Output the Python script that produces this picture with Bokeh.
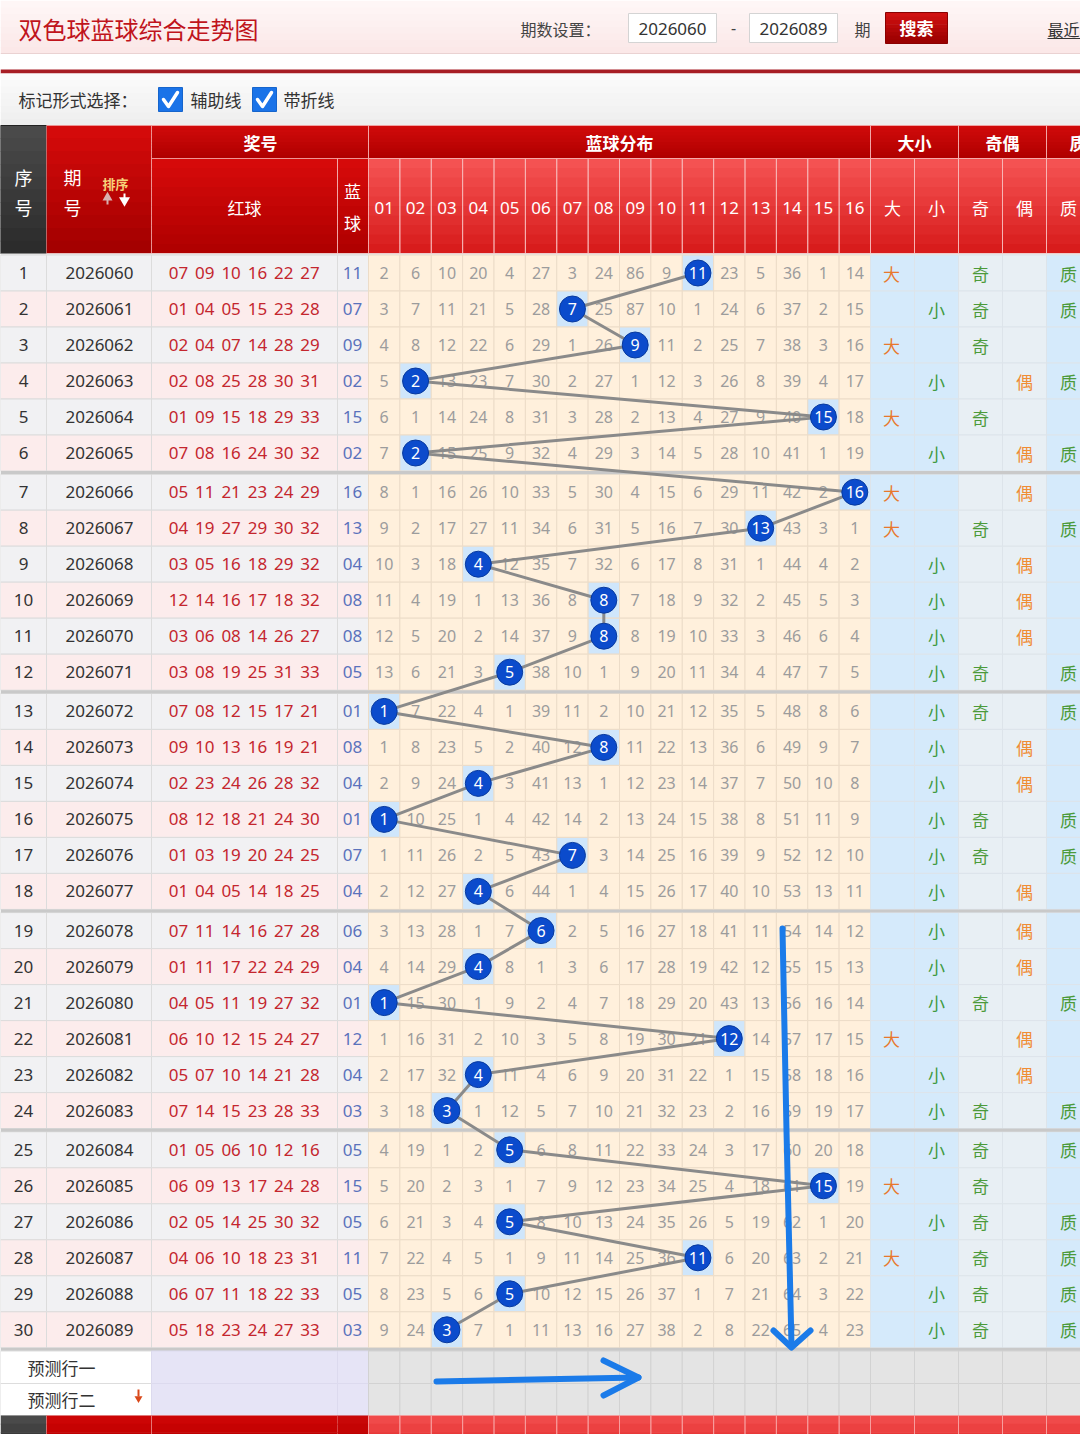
from bokeh.plotting import figure
from bokeh.models import Range1d
from bokeh.embed import file_html
from bokeh.resources import INLINE
from bokeh.core.properties import value

# ---------------- data ----------------
seq_numbers = ["1", "2", "3", "4", "5", "6", "7", "8", "9", "10", "11", "12", "13", "14", "15",
               "16", "17", "18", "19", "20", "21", "22", "23", "24", "25", "26", "27", "28", "29", "30"]
issues = ["2026060", "2026061", "2026062", "2026063", "2026064", "2026065", "2026066", "2026067",
          "2026068", "2026069", "2026070", "2026071", "2026072", "2026073", "2026074", "2026075",
          "2026076", "2026077", "2026078", "2026079", "2026080", "2026081", "2026082", "2026083",
          "2026084", "2026085", "2026086", "2026087", "2026088", "2026089"]
red_balls = [
    "07 09 10 16 22 27", "01 04 05 15 23 28", "02 04 07 14 28 29", "02 08 25 28 30 31",
    "01 09 15 18 29 33", "07 08 16 24 30 32", "05 11 21 23 24 29", "04 19 27 29 30 32",
    "03 05 16 18 29 32", "12 14 16 17 18 32", "03 06 08 14 26 27", "03 08 19 25 31 33",
    "07 08 12 15 17 21", "09 10 13 16 19 21", "02 23 24 26 28 32", "08 12 18 21 24 30",
    "01 03 19 20 24 25", "01 04 05 14 18 25", "07 11 14 16 27 28", "01 11 17 22 24 29",
    "04 05 11 19 27 32", "06 10 12 15 24 27", "05 07 10 14 21 28", "07 14 15 23 28 33",
    "01 05 06 10 12 16", "06 09 13 17 24 28", "02 05 14 25 30 32", "04 06 10 18 23 31",
    "06 07 11 18 22 33", "05 18 23 24 27 33"]
blue_balls = [11, 7, 9, 2, 15, 2, 16, 13, 4, 8, 8, 5, 1, 8, 4, 1, 7, 4, 6, 4,
              1, 12, 4, 3, 5, 15, 5, 11, 5, 3]
ball_labels = ["01", "02", "03", "04", "05", "06", "07", "08", "09", "10", "11", "12", "13", "14", "15", "16"]
# omission counts per ball column (0 = drawn this period)
miss = [
    [2, 6, 10, 20, 4, 27, 3, 24, 86, 9, 0, 23, 5, 36, 1, 14],
    [3, 7, 11, 21, 5, 28, 0, 25, 87, 10, 1, 24, 6, 37, 2, 15],
    [4, 8, 12, 22, 6, 29, 1, 26, 0, 11, 2, 25, 7, 38, 3, 16],
    [5, 0, 13, 23, 7, 30, 2, 27, 1, 12, 3, 26, 8, 39, 4, 17],
    [6, 1, 14, 24, 8, 31, 3, 28, 2, 13, 4, 27, 9, 40, 0, 18],
    [7, 0, 15, 25, 9, 32, 4, 29, 3, 14, 5, 28, 10, 41, 1, 19],
    [8, 1, 16, 26, 10, 33, 5, 30, 4, 15, 6, 29, 11, 42, 2, 0],
    [9, 2, 17, 27, 11, 34, 6, 31, 5, 16, 7, 30, 0, 43, 3, 1],
    [10, 3, 18, 0, 12, 35, 7, 32, 6, 17, 8, 31, 1, 44, 4, 2],
    [11, 4, 19, 1, 13, 36, 8, 0, 7, 18, 9, 32, 2, 45, 5, 3],
    [12, 5, 20, 2, 14, 37, 9, 0, 8, 19, 10, 33, 3, 46, 6, 4],
    [13, 6, 21, 3, 0, 38, 10, 1, 9, 20, 11, 34, 4, 47, 7, 5],
    [0, 7, 22, 4, 1, 39, 11, 2, 10, 21, 12, 35, 5, 48, 8, 6],
    [1, 8, 23, 5, 2, 40, 12, 0, 11, 22, 13, 36, 6, 49, 9, 7],
    [2, 9, 24, 0, 3, 41, 13, 1, 12, 23, 14, 37, 7, 50, 10, 8],
    [0, 10, 25, 1, 4, 42, 14, 2, 13, 24, 15, 38, 8, 51, 11, 9],
    [1, 11, 26, 2, 5, 43, 0, 3, 14, 25, 16, 39, 9, 52, 12, 10],
    [2, 12, 27, 0, 6, 44, 1, 4, 15, 26, 17, 40, 10, 53, 13, 11],
    [3, 13, 28, 1, 7, 0, 2, 5, 16, 27, 18, 41, 11, 54, 14, 12],
    [4, 14, 29, 0, 8, 1, 3, 6, 17, 28, 19, 42, 12, 55, 15, 13],
    [0, 15, 30, 1, 9, 2, 4, 7, 18, 29, 20, 43, 13, 56, 16, 14],
    [1, 16, 31, 2, 10, 3, 5, 8, 19, 30, 21, 0, 14, 57, 17, 15],
    [2, 17, 32, 0, 11, 4, 6, 9, 20, 31, 22, 1, 15, 58, 18, 16],
    [3, 18, 0, 1, 12, 5, 7, 10, 21, 32, 23, 2, 16, 59, 19, 17],
    [4, 19, 1, 2, 0, 6, 8, 11, 22, 33, 24, 3, 17, 60, 20, 18],
    [5, 20, 2, 3, 1, 7, 9, 12, 23, 34, 25, 4, 18, 61, 0, 19],
    [6, 21, 3, 4, 0, 8, 10, 13, 24, 35, 26, 5, 19, 62, 1, 20],
    [7, 22, 4, 5, 1, 9, 11, 14, 25, 36, 0, 6, 20, 63, 2, 21],
    [8, 23, 5, 6, 0, 10, 12, 15, 26, 37, 1, 7, 21, 64, 3, 22],
    [9, 24, 0, 7, 1, 11, 13, 16, 27, 38, 2, 8, 22, 65, 4, 23],
]
size_flag = ["大", "小", "大", "小", "大", "小", "大", "大", "小", "小", "小", "小", "小", "小", "小",
             "小", "小", "小", "小", "小", "小", "大", "小", "小", "小", "大", "小", "大", "小", "小"]
parity_flag = ["奇", "奇", "奇", "偶", "奇", "偶", "偶", "奇", "偶", "偶", "偶", "奇", "奇", "偶", "偶",
               "奇", "奇", "偶", "偶", "偶", "奇", "偶", "偶", "奇", "奇", "奇", "奇", "奇", "奇", "奇"]
prime_flag = ["质", "质", "合", "质", "合", "质", "合", "质", "合", "合", "合", "质", "质", "合", "合",
              "质", "质", "合", "合", "合", "质", "合", "合", "质", "质", "合", "质", "质", "质", "质"]

# ---------------- layout helpers ----------------
CJK = "Noto Sans CJK SC"
NUM = "Noto Sans"
COL_X0, COL_W = 368.0, 31.375
ROW_TOP0, ROW_H, SEP = 254.5, 36.0, 3.2
N = len(issues)


def row_top(i):
    return ROW_TOP0 + ROW_H * i + SEP * (i // 6)


def row_mid(i):
    return row_top(i) + ROW_H / 2


def col_left(k):
    return COL_X0 + COL_W * k


def col_mid(k):
    return COL_X0 + COL_W * (k + 0.5)


p = figure(width=1080, height=1434, x_range=Range1d(0, 1080), y_range=Range1d(1434, 0),
           output_backend="svg", toolbar_location=None, min_border=0,
           x_axis_location=None, y_axis_location=None, outline_line_color=None,
           background_fill_color="white", border_fill_color="white")
p.grid.visible = False


def hexrgb(c):
    return [int(c[i:i + 2], 16) for i in (1, 3, 5)]


def lerp(c1, c2, t):
    a, b = hexrgb(c1), hexrgb(c2)
    return "#%02x%02x%02x" % tuple(round(a[j] + (b[j] - a[j]) * t) for j in range(3))


def grad(cells, c1, c2, n=10, border=None, balpha=1.0):
    L, R, T, B, C = [], [], [], [], []
    for (l, r, t, b) in cells:
        for k in range(n):
            y0 = t + (b - t) * k / n
            y1 = t + (b - t) * (k + 1) / n
            L.append(l); R.append(r); T.append(y0); B.append(min(b, y1 + 0.7))
            C.append(lerp(c1, c2, k / max(1, n - 1)))
    p.quad(left=L, right=R, top=T, bottom=B, fill_color=C, line_color=None)
    if border:
        p.quad(left=[c[0] for c in cells], right=[c[1] for c in cells],
               top=[c[2] for c in cells], bottom=[c[3] for c in cells],
               fill_color=None, line_color=border, line_alpha=balpha, line_width=1)


def txt(xs, ys, texts, size, color, font=CJK, bold=False, align="center"):
    p.text(x=xs, y=ys, text=texts, text_font=value(font), text_font_size=f"{size}px",
           text_color=color, text_align=align, text_baseline="middle",
           text_font_style="bold" if bold else "normal")


# ---------------- top bar ----------------
grad([(0, 1080, 0, 53)], "#fef6f6", "#fbe8e8", n=8)
p.segment(x0=[0], y0=[53], x1=[1080], y1=[53], line_color="#ead2d2", line_width=1)
txt([18], [28], ["双色球蓝球综合走势图"], 24, "#c0141c", align="left")
txt([520], [28], ["期数设置："], 16, "#444444", align="left")
p.quad(left=[628, 749], right=[716, 837], top=[13, 13], bottom=[42, 42],
       fill_color="white", line_color="#d4d4d4")
txt([672, 793], [28, 28], ["2026060", "2026089"], 17, "#333333", font=NUM)
txt([733], [27], ["-"], 16, "#444444", font=NUM)
txt([862], [28], ["期"], 16, "#444444")
grad([(885, 947, 12, 43)], "#d01010", "#9a0000", n=8, border="#8a0000")
txt([916], [27], ["搜索"], 17, "white", bold=True)
txt([1047], [28], ["最近"], 16, "#333333", align="left")
p.segment(x0=[1047], y0=[38], x1=[1080], y1=[38], line_color="#333333", line_width=1)

# red rule + toolbar
p.quad(left=[0], right=[1080], top=[69], bottom=[73], fill_color="#a81e26", line_color=None)
grad([(0, 1080, 73, 125)], "#fbfbfb", "#eeeeee", n=8)
txt([18], [99], ["标记形式选择："], 17, "#333333", align="left")
p.quad(left=[158, 252], right=[182, 276], top=[87, 87], bottom=[111, 111],
       fill_color="#1a73e8", line_color="#1665cc")
for bx in (158, 252):
    p.line(x=[bx + 5, bx + 10, bx + 19], y=[99, 106, 92], line_color="white", line_width=3.5,
           line_cap="round", line_join="round")
txt([190, 283], [99, 99], ["辅助线", "带折线"], 17, "#333333", align="left")

# ---------------- table header ----------------
grad([(0, 46, 125, 253)], "#4a4a4a", "#2c2c2c", border="#222222")
grad([(46, 151, 125, 253)], "#d40a0a", "#a40000", border="#f0a0a0", balpha=0.6)
grad([(151, 368, 125, 158), (368, 870, 125, 158), (870, 958, 125, 158),
      (958, 1046, 125, 158), (1046, 1134, 125, 158)], "#d00a0a", "#b00000",
     border="#f5b0b0", balpha=0.7)
grad([(151, 337, 158, 253), (337, 368, 158, 253)], "#d60a0a", "#b00000",
     border="#f5b0b0", balpha=0.7)
sub_cells = [(col_left(k), col_left(k + 1), 158, 253) for k in range(16)]
sub_cells += [(870 + 44 * k, 914 + 44 * k, 158, 253) for k in range(6)]
grad(sub_cells, "#f45252", "#d81c1c", border="#f8b8b8", balpha=0.8)
p.quad(left=[0], right=[1080], top=[253], bottom=[255], fill_color="#e8e8e8", line_color=None)

txt([23, 23], [176, 206], ["序", "号"], 18, "white")
txt([72, 72], [176, 206], ["期", "号"], 18, "white")
txt([115], [183], ["排序"], 13, "#f7d27a", bold=True)
p.segment(x0=[107, 124], y0=[197, 193], x1=[107, 124], y1=[204, 200], line_color=["#d8b0b0", "white"], line_width=2)
p.scatter(x=[107], y=[197], marker="triangle", size=10, fill_color="#d8b0b0", line_color=None)
p.scatter(x=[124], y=[200], marker="inverted_triangle", size=11, fill_color="white", line_color=None)
txt([260, 619, 914, 1002], [142] * 4, ["奖号", "蓝球分布", "大小", "奇偶"], 17, "white", bold=True)
txt([1069], [142], ["质"], 17, "white", bold=True, align="left")
txt([244], [207], ["红球"], 17, "white")
txt([352, 352], [190, 222], ["蓝", "球"], 17, "white")
txt([col_mid(k) for k in range(16)], [207] * 16, ball_labels, 17, "white", font=NUM)
txt([892, 936, 980, 1024, 1068], [207] * 5, ["大", "小", "奇", "偶", "质"], 17, "white")

# ---------------- data rows ----------------
# left part backgrounds
L, R, T, B, C = [], [], [], [], []
for i in range(N):
    fill = "#f1f1f3" if i % 2 == 0 else "#fcecec"
    for (l, r) in ((0, 46), (46, 151), (151, 337), (337, 368)):
        L.append(l); R.append(r); T.append(row_top(i)); B.append(row_top(i) + ROW_H); C.append(fill)
p.quad(left=L, right=R, top=T, bottom=B, fill_color=C, line_color="#dcdcdc", line_width=1)

# distribution cells
L, R, T, B, C = [], [], [], [], []
for i in range(N):
    for k in range(16):
        L.append(col_left(k)); R.append(col_left(k + 1))
        T.append(row_top(i)); B.append(row_top(i) + ROW_H)
        C.append("#cfe6fb" if miss[i][k] == 0 else "#fff0dc")
p.quad(left=L, right=R, top=T, bottom=B, fill_color=C, line_color="#ecdcc8", line_width=1)

# right attribute cells
right_cols = [(870, 914, "#d5eafb"), (914, 958, "#d5eafb"), (958, 1002, "#e8eff4"),
              (1002, 1046, "#e8eff4"), (1046, 1090, "#d5eafb"), (1090, 1134, "#d5eafb")]
L, R, T, B, C = [], [], [], [], []
for i in range(N):
    for (l, r, c) in right_cols:
        L.append(l); R.append(r); T.append(row_top(i)); B.append(row_top(i) + ROW_H); C.append(c)
p.quad(left=L, right=R, top=T, bottom=B, fill_color=C, line_color="#dde4ea", line_width=1)

# group separators
seps = [row_top(g * 6) for g in range(1, 5)] + [row_top(N - 1) + ROW_H + SEP]
p.quad(left=[0] * len(seps), right=[1080] * len(seps), top=[s - SEP for s in seps], bottom=seps,
       fill_color="#c9c9c9", line_color=None)

ys = [row_mid(i) for i in range(N)]
txt([23] * N, ys, seq_numbers, 17, "#333333", font=NUM)
txt([99] * N, ys, issues, 17, "#333333", font=NUM)
rx, ry, rt = [], [], []
for i in range(N):
    for j, nstr in enumerate(red_balls[i].split()):
        rx.append(178 + 26.3 * j); ry.append(ys[i]); rt.append(nstr)
txt(rx, ry, rt, 17, "#c4262e", font=NUM)
txt([352] * N, ys, ["%02d" % b for b in blue_balls], 17, "#5a72bc", font=NUM)

mx, my, mt = [], [], []
for i in range(N):
    for k in range(16):
        if miss[i][k] != 0:
            mx.append(col_mid(k)); my.append(ys[i]); mt.append(str(miss[i][k]))
txt(mx, my, mt, 16, "#9c9c9c", font=NUM)

hx = [col_mid(b - 1) for b in blue_balls]
p.line(x=hx, y=ys, line_color="#8a8a8a", line_width=3, line_join="round")
p.scatter(x=hx, y=ys, marker="circle", size=26, fill_color="#0b4bcc", line_color="#083a9e", line_width=1)
txt(hx, ys, [str(b) for b in blue_balls], 16, "white", font=NUM)

txt([891 if s == "大" else 936 for s in size_flag], ys, size_flag, 17,
    ["#e8782c" if s == "大" else "#3f9a3f" for s in size_flag])
txt([980 if s == "奇" else 1024 for s in parity_flag], ys, parity_flag, 17,
    ["#4c9a3a" if s == "奇" else "#f08c34" for s in parity_flag])
qi = [i for i in range(N) if prime_flag[i] == "质"]
txt([1068] * len(qi), [ys[i] for i in qi], ["质"] * len(qi), 17, "#4c9a3a")

# ---------------- prediction rows ----------------
pt = row_top(N - 1) + ROW_H + SEP
pr = [(pt, pt + 32.5), (pt + 32.5, 1415)]
for (t, b) in pr:
    p.quad(left=[0], right=[151], top=[t], bottom=[b], fill_color="white", line_color="#dddddd")
    p.quad(left=[151, 337], right=[337, 368], top=[t, t], bottom=[b, b], fill_color="#e6e4f6", line_color="#dcdaee")
    p.quad(left=[col_left(k) for k in range(16)] + [870 + 44 * k for k in range(6)],
           right=[col_left(k + 1) for k in range(16)] + [914 + 44 * k for k in range(6)],
           top=[t] * 22, bottom=[b] * 22, fill_color="#e4e4e4", line_color="#d2d2d2")
txt([27, 27], [(pr[0][0] + pr[0][1]) / 2, (pr[1][0] + pr[1][1]) / 2], ["预测行一", "预测行二"], 17,
    "#333333", align="left")
p.segment(x0=[138], y0=[1389], x1=[138], y1=[1396], line_color="#d9481a", line_width=2)
p.scatter(x=[138], y=[1398], marker="inverted_triangle", size=8, fill_color="#d9481a", line_color=None)

# ---------------- bottom header band ----------------
grad([(0, 46, 1415, 1440)], "#4a4a4a", "#3a3a3a", n=3)
grad([(46, 151, 1415, 1440), (151, 337, 1415, 1440)], "#cc0505", "#c00000", n=3, border="#e88080", balpha=0.6)
grad([(337, 368, 1415, 1440)], "#c80808", "#c00000", n=3)
bcells = [(col_left(k), col_left(k + 1), 1415, 1440) for k in range(16)]
bcells += [(870 + 44 * k, 914 + 44 * k, 1415, 1440) for k in range(6)]
grad(bcells, "#f04a4a", "#e83838", n=3, border="#f7a0a0", balpha=0.8)

# ---------------- hand-drawn blue annotation arrows ----------------
ARROW = "#1b7be9"
p.line(x=[782, 786, 791], y=[928, 1130, 1345], line_color=ARROW, line_width=6, line_cap="round")
p.line(x=[773, 791, 810], y=[1330, 1347, 1330], line_color=ARROW, line_width=6, line_cap="round",
       line_join="round")
p.line(x=[436, 638], y=[1381, 1377], line_color=ARROW, line_width=6, line_cap="round")
p.line(x=[603, 638, 603], y=[1360, 1377, 1395], line_color=ARROW, line_width=6, line_cap="round",
       line_join="round")

open("out.html", "w").write(file_html(p, INLINE))
